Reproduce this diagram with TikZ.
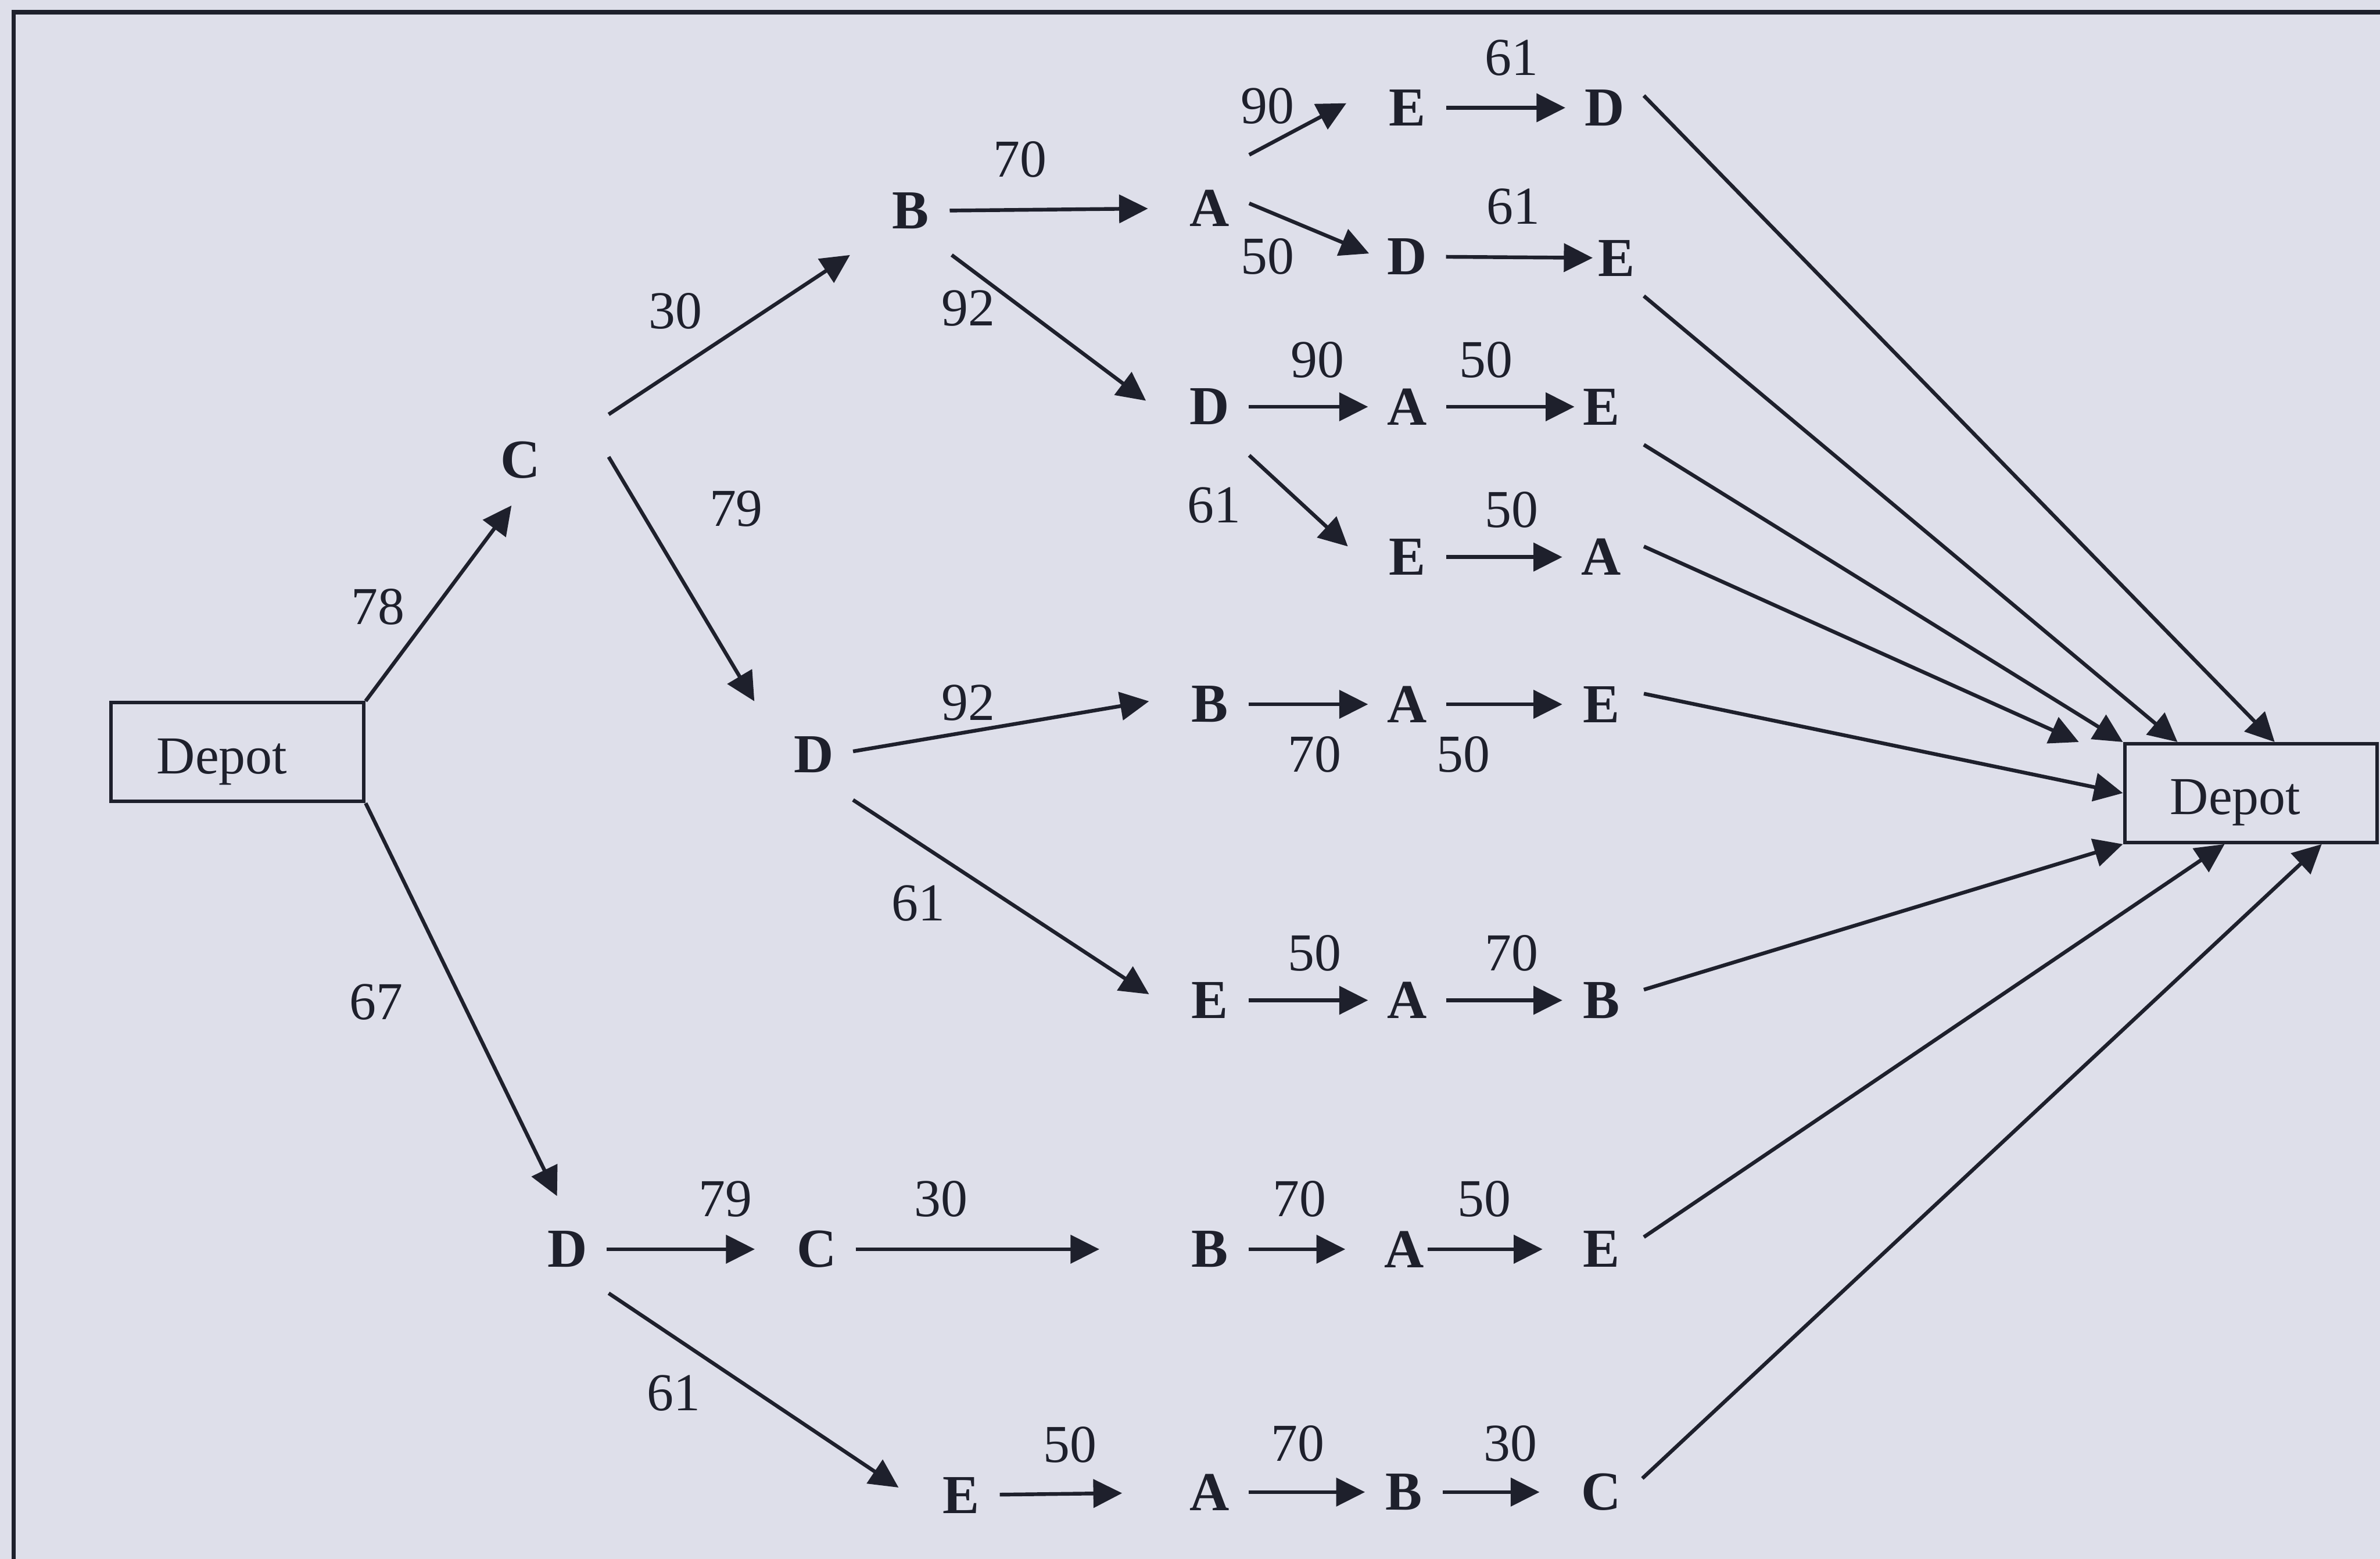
\documentclass[tikz,border=0pt]{standalone}
\usepackage{fontspec}
\setmainfont{Liberation Serif}
\usepackage{tikz}
\usetikzlibrary{arrows.meta,positioning,calc}
\usepackage{xcolor}
\definecolor{paper}{RGB}{222,223,234}
\definecolor{ink}{RGB}{30,32,44}

\begin{document}
\begin{tikzpicture}[
  x=0.1mm,y=-0.1mm,
  stop/.style={circle,inner sep=0pt,minimum size=5mm,font=\fontsize{10.3}{12}\selectfont\bfseries,text=ink},
  depot/.style={draw=ink,line width=0.65pt,inner xsep=3mm,text width=10.65mm,text height=8pt,text depth=0pt,minimum height=6.5mm,font=\fontsize{10}{12}\selectfont,text=ink},
  lab/.style={font=\fontsize{10}{12}\selectfont,text=ink,inner sep=0pt},
  arr/.style={-{Triangle[length=1.9mm,width=1.85mm]},line width=0.7pt,draw=ink}
]
\useasboundingbox (0,0) rectangle (1568,1027);
\fill[paper] (0,0) rectangle (1568,1027);
\draw[ink,line width=0.8pt] (9,1040) -- (9,8) -- (1580,8);

% depots
\node[depot] (dep) at (156.5,495.5) {Depot};
\node[depot] (depr) at (1483,522.5) {Depot};

% stops, column by column
\node[stop] (c1) at (343,303) {C};
\node[stop] (d1) at (374,823) {D};
\node[stop] (b2) at (600,139) {B};
\node[stop] (d2) at (536,497) {D};
\node[stop] (c2) at (538,823) {C};
\node[stop] (e2) at (633,985) {E};
\node[stop] (a3a) at (797,137) {A};
\node[stop] (d3) at (797,268) {D};
\node[stop] (b3a) at (797,464) {B};
\node[stop] (e3) at (797,659) {E};
\node[stop] (b3b) at (797,823) {B};
\node[stop] (a3b) at (797,983) {A};
\node[stop] (e4a) at (927,71) {E};
\node[stop] (d4) at (927,169) {D};
\node[stop] (a4a) at (927,268) {A};
\node[stop] (e4b) at (927,367) {E};
\node[stop] (a4b) at (927,464) {A};
\node[stop] (a4c) at (927,659) {A};
\node[stop] (a4d) at (925,823) {A};
\node[stop] (b4) at (925,983) {B};
\node[stop] (d5) at (1057,71) {D};
\node[stop] (e5a) at (1065,170) {E};
\node[stop] (e5b) at (1055,268) {E};
\node[stop] (a5) at (1055,367) {A};
\node[stop] (e5c) at (1055,464) {E};
\node[stop] (b5) at (1055,659) {B};
\node[stop] (e5d) at (1055,823) {E};
\node[stop] (c5) at (1055,983) {C};

% legs
\draw[arr] (dep.north east) -- ([shift={(-6,30)}]c1.center);
\draw[arr] (dep.south east) -- ([shift={(-7,-35)}]d1.center);
\draw[arr] ([shift={(58,-30)}]c1.center) -- ([shift={(-40,29)}]b2.center);
\draw[arr] ([shift={(58,-2)}]c1.center) -- ([shift={(-39,-35)}]d2.center);
\draw[arr,shorten >=1.5mm] (b2) -- (a3a);
\draw[arr] ([shift={(27,29)}]b2.center) -- ([shift={(-42,-4)}]d3.center);
\draw[arr] ([shift={(26,-35)}]a3a.center) -- ([shift={(-40,-3)}]e4a.center);
\draw[arr] ([shift={(26,-3)}]a3a.center) -- ([shift={(-25,-2)}]d4.center);
\draw[arr] (e4a) -- (d5);
\draw[arr,shorten >=-1mm] (d4) -- (e5a);
\draw[arr] (d3) -- (a4a);
\draw[arr,shorten >=-0.8mm] (a4a) -- (e5b);
\draw[arr] ([shift={(26,32)}]d3.center) -- ([shift={(-39,-7)}]e4b.center);
\draw[arr] (e4b) -- (a5);
\draw[arr] ([shift={(26,-2)}]d2.center) -- ([shift={(-40,-2)}]b3a.center);
\draw[arr] (b3a) -- (a4b);
\draw[arr] (a4b) -- (e5c);
\draw[arr] ([shift={(26,30)}]d2.center) -- ([shift={(-40,-4)}]e3.center);
\draw[arr] (e3) -- (a4c);
\draw[arr] (a4c) -- (b5);
\draw[arr,shorten >=1.5mm] (d1) -- (c2);
\draw[arr,shorten >=4.7mm] (c2) -- (b3b);
\draw[arr,shorten >=1.3mm] (b3b) -- (a4d);
\draw[arr,shorten <=-1mm,shorten >=1.3mm] (a4d) -- (e5d);
\draw[arr] ([shift={(27,29)}]d1.center) -- ([shift={(-41,-5)}]e2.center);
\draw[arr,shorten >=3.2mm] (e2) -- (a3b);
\draw[arr] (a3b) -- (b4);
\draw[arr,shorten >=1.5mm] (b4) -- (c5);

% back to the depot
\draw[arr] ([shift={(26,-8)}]d5.center) -- ([xshift=10mm]depr.north west);
\draw[arr] ([shift={(18,25)}]e5a.center) -- ([xshift=3.6mm]depr.north west);
\draw[arr] ([shift={(28,25)}]e5b.center) -- (depr.north west);
\draw[arr] ([shift={(28,-7)}]a5.center) -- ([xshift=-2.9mm]depr.north west);
\draw[arr] ([shift={(28,-7)}]e5c.center) -- (depr.west);
\draw[arr] ([shift={(28,-7)}]b5.center) -- (depr.south west);
\draw[arr] ([shift={(28,-8)}]e5d.center) -- ([xshift=6.7mm]depr.south west);
\draw[arr] ([shift={(27,-9)}]c5.center) -- ([xshift=13.1mm]depr.south west);

% distances
\node[lab] (wdepc1) at (249,400) {78};
\node[lab] (wdepd1) at (248,660) {67};
\node[lab] (wc1b2) at (445,205) {30};
\node[lab] (wc1d2) at (485,335) {79};
\node[lab] (wb2a3a) at (672,105) {70};
\node[lab] (wb2d3) at (638,203) {92};
\node[lab] (wa3ae4a) at (835,70) {90};
\node[lab] (wa3ad4) at (835,169) {50};
\node[lab] (we4ad5) at (996,38) {61};
\node[lab] (wd4e5a) at (997,136) {61};
\node[lab] (wd3a4a) at (868,237) {90};
\node[lab] (wa4ae5b) at (979,237) {50};
\node[lab] (wd3e4b) at (800,333) {61};
\node[lab] (we4ba5) at (996,336) {50};
\node[lab] (wd2b3a) at (638,463) {92};
\node[lab] (wb3aa4b) at (866,497) {70};
\node[lab] (wa4be5c) at (964,497) {50};
\node[lab] (wd2e3) at (605,595) {61};
\node[lab] (we3a4c) at (866,628) {50};
\node[lab] (wa4cb5) at (996,628) {70};
\node[lab] (wd1c2) at (478,790) {79};
\node[lab] (wc2b3b) at (620,790) {30};
\node[lab] (wb3ba4d) at (856,790) {70};
\node[lab] (wa4de5d) at (978,790) {50};
\node[lab] (wd1e2) at (444,918) {61};
\node[lab] (we2a3b) at (705,952) {50};
\node[lab] (wa3bb4) at (855,951) {70};
\node[lab] (wb4c5) at (995,951) {30};
\end{tikzpicture}
\end{document}
